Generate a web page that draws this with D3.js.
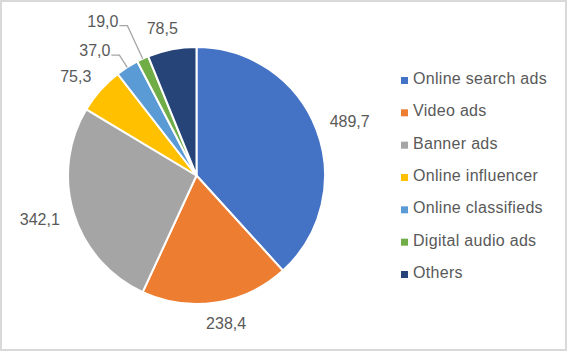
<!DOCTYPE html>
<html>
<head>
<meta charset="utf-8">
<script src="https://cdn.jsdelivr.net/npm/d3@7"></script>
<style>
  body { margin: 0; background: #fff; }
  svg { display: block; font-family: "Liberation Sans", Arial, sans-serif; }
</style>
</head>
<body>
<svg id="chart" width="569" height="352"></svg>
<script>
// Dữ liệu
const categories = ["Online search ads", "Video ads", "Banner ads", "Online influencer", "Online classifieds", "Digital audio ads", "Others"];
const values = [489.7, 238.4, 342.1, 75.3, 37.0, 19.0, 78.5];
const labels = ["489,7", "238,4", "342,1", "75,3", "37,0", "19,0", "78,5"];
const colors = ["#4472C4", "#ED7D31", "#A5A5A5", "#FFC000", "#5B9BD5", "#70AD47", "#264478"];

const svg = d3.select("#chart");
const W = +svg.attr("width"), H = +svg.attr("height");

// Khung viền
svg.append("rect")
    .attr("x", 1).attr("y", 1)
    .attr("width", W - 4).attr("height", H - 3)
    .attr("fill", "#fff")
    .attr("stroke", "#d9d9d9")
    .attr("stroke-width", 2);

const cx = 196.5, cy = 175.5, r = 128.5;
const g = svg.append("g").attr("transform", `translate(${cx},${cy})`);

const pie = d3.pie().sort(null).value(d => d);
const arcs = pie(values);
const arc = d3.arc().innerRadius(0).outerRadius(r);

g.selectAll("path.slice")
    .data(arcs)
    .enter()
    .append("path")
    .attr("class", "slice")
    .attr("d", arc)
    .attr("fill", (d, i) => colors[i])
    .attr("stroke", "#fff")
    .attr("stroke-width", 2);

// Nhãn dữ liệu
const total = d3.sum(values);
const gap = 15;
let leaderIdx = 0;
arcs.forEach((d, i) => {
    const a = (d.startAngle + d.endAngle) / 2;
    const s = Math.sin(a), c = Math.cos(a);
    if (d.value / total < 0.035) {
        // nhãn có đường dẫn
        const R2 = 143 + 22 * leaderIdx;
        leaderIdx++;
        const ex = R2 * s, ey = -R2 * c;
        g.append("polyline")
            .attr("points", [[r * s, -r * c], [ex, ey], [ex - 8, ey]].map(p => p.join(",")).join(" "))
            .attr("fill", "none")
            .attr("stroke", "#a6a6a6")
            .attr("stroke-width", 1.3);
        g.append("text")
            .attr("x", ex - 9)
            .attr("y", ey + 1)
            .attr("text-anchor", "end")
            .attr("fill", "#595959")
            .style("font-size", "16px")
            .text(labels[i]);
    } else {
        const t = g.append("text")
            .attr("text-anchor", "middle")
            .attr("fill", "#595959")
            .style("font-size", "16px")
            .text(labels[i]);
        const hw = t.node().getComputedTextLength() / 2, hh = 6;
        const x = (r + gap) * s + hw * Math.sign(s) * Math.sqrt(Math.abs(s));
        const y = -(r + gap + hh) * c;
        t.attr("x", x).attr("y", y + 5.5);
    }
});

// Chú giải
const legendY = d3.scalePoint()
    .domain(categories)
    .range([78, 272]);

const legend = svg.append("g");
categories.forEach((cat, i) => {
    legend.append("rect")
        .attr("x", 401)
        .attr("y", legendY(cat) - 1)
        .attr("width", 7)
        .attr("height", 7)
        .attr("fill", colors[i]);
    legend.append("text")
        .attr("x", 413)
        .attr("y", legendY(cat) + 6)
        .attr("fill", "#595959")
        .style("font-size", "16px")
        .style("letter-spacing", "0.3px")
        .text(cat);
});
</script>
</body>
</html>
